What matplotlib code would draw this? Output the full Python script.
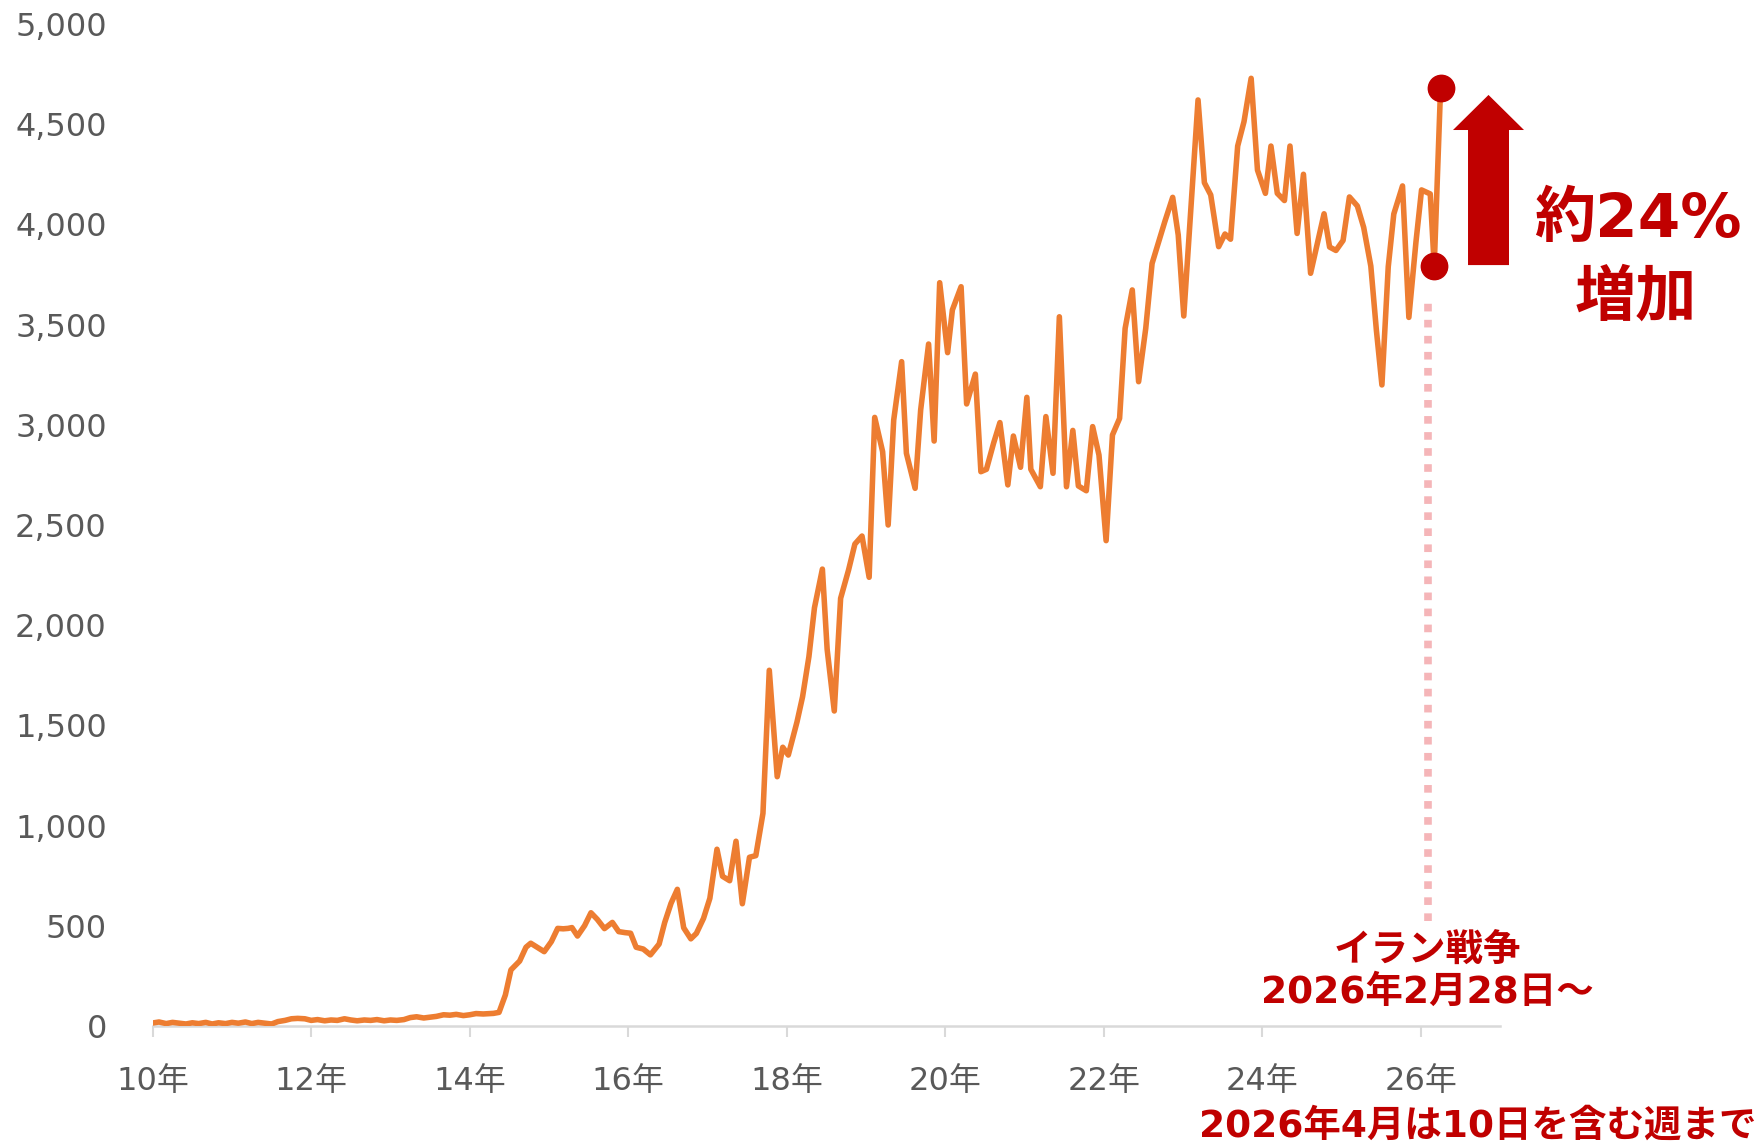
import matplotlib
matplotlib.use("Agg")
import matplotlib.pyplot as plt
import matplotlib.patches as mpatches

plt.rcParams["font.family"] = ["DejaVu Sans", "Noto Sans CJK JP"]

# ---------------------------------------------------------------------------
# Data (x in fractional years)
# ---------------------------------------------------------------------------
years = [
    2010.00, 2010.08, 2010.17, 2010.25, 2010.33, 2010.42, 2010.50, 2010.58,
    2010.67, 2010.75, 2010.83, 2010.92, 2011.00, 2011.08, 2011.17, 2011.25,
    2011.33, 2011.42, 2011.50, 2011.58, 2011.67, 2011.75, 2011.83, 2011.92,
    2012.00, 2012.08, 2012.17, 2012.25, 2012.33, 2012.42, 2012.50, 2012.58,
    2012.67, 2012.75, 2012.83, 2012.92, 2013.00, 2013.08, 2013.17, 2013.25,
    2013.33, 2013.42, 2013.50, 2013.58, 2013.67, 2013.75, 2013.83, 2013.92,
    2014.00, 2014.08, 2014.17, 2014.30, 2014.37, 2014.45, 2014.52, 2014.63,
    2014.71, 2014.77, 2014.94, 2015.03, 2015.11, 2015.18, 2015.24, 2015.29,
    2015.36, 2015.45, 2015.53, 2015.61, 2015.70, 2015.80, 2015.88, 2015.96,
    2016.03, 2016.10, 2016.19, 2016.28, 2016.39, 2016.46, 2016.54, 2016.62,
    2016.70, 2016.79, 2016.86, 2016.95, 2017.03, 2017.12, 2017.19, 2017.28,
    2017.36, 2017.44, 2017.53, 2017.61, 2017.70, 2017.78, 2017.88, 2017.95,
    2018.02, 2018.13, 2018.20, 2018.28, 2018.35, 2018.45, 2018.51, 2018.60,
    2018.68, 2018.78, 2018.86, 2018.95, 2019.04, 2019.11, 2019.21, 2019.28,
    2019.35, 2019.45, 2019.51, 2019.62, 2019.69, 2019.79, 2019.86, 2019.93,
    2020.03, 2020.09, 2020.20, 2020.27, 2020.38, 2020.45, 2020.52, 2020.61,
    2020.69, 2020.79, 2020.86, 2020.95, 2021.03, 2021.08, 2021.20, 2021.27,
    2021.36, 2021.44, 2021.53, 2021.61, 2021.68, 2021.78, 2021.86, 2021.94,
    2022.03, 2022.11, 2022.20, 2022.27, 2022.36, 2022.44, 2022.53, 2022.61,
    2022.70, 2022.77, 2022.87, 2022.94, 2023.01, 2023.19, 2023.27, 2023.35,
    2023.45, 2023.53, 2023.60, 2023.69, 2023.77, 2023.86, 2023.94, 2024.04,
    2024.11, 2024.19, 2024.28, 2024.35, 2024.44, 2024.52, 2024.61, 2024.70,
    2024.78, 2024.85, 2024.93, 2025.02, 2025.10, 2025.20, 2025.28, 2025.37,
    2025.44, 2025.51, 2025.59, 2025.66, 2025.77, 2025.85, 2025.94, 2026.01,
    2026.12, 2026.17, 2026.25,
]
values = [
    15, 20, 12, 18, 14, 10, 16, 12,
    18, 10, 16, 12, 18, 14, 20, 12,
    18, 14, 10, 22, 28, 36, 38, 36,
    28, 32, 26, 30, 28, 36, 30, 26,
    30, 28, 32, 26, 30, 28, 32, 42,
    46, 40, 44, 48, 56, 54, 58, 52,
    56, 62, 60, 63, 68, 155, 280, 324,
    393, 413, 371, 421, 487, 485, 487, 491,
    449, 501, 565, 532, 486, 517, 471, 466,
    463, 393, 384, 355, 409, 516, 612, 682,
    490, 435, 462, 537, 637, 882, 747, 725,
    922, 610, 842, 850, 1061, 1775, 1244, 1391,
    1352, 1518, 1643, 1843, 2087, 2280, 1880, 1572,
    2134, 2275, 2405, 2445, 2239, 3037, 2866, 2500,
    3024, 3315, 2858, 2683, 3074, 3403, 2919, 3709,
    3360, 3573, 3689, 3104, 3253, 2766, 2778, 2908,
    3011, 2700, 2944, 2788, 3137, 2778, 2691, 3041,
    2758, 3539, 2691, 2972, 2695, 2671, 2991, 2849,
    2422, 2949, 3032, 3481, 3673, 3215, 3481, 3805,
    3922, 4013, 4135, 3947, 3543, 4621, 4208, 4147,
    3889, 3952, 3926, 4391, 4513, 4729, 4271, 4155,
    4391, 4155, 4119, 4391, 3955, 4250, 3756, 3912,
    4053, 3887, 3870, 3920, 4137, 4092, 3985, 3792,
    3473, 3199, 3789, 4052, 4192, 3536, 3914, 4172,
    4152, 3792, 4679,
]

x_ticks = [2010, 2012, 2014, 2016, 2018, 2020, 2022, 2024, 2026]
x_tick_labels = ["10年", "12年", "14年", "16年", "18年", "20年", "22年", "24年", "26年"]
y_ticks = [0, 500, 1000, 1500, 2000, 2500, 3000, 3500, 4000, 4500, 5000]

war_start = 2026.09          # position of the dotted marker line
war_line_span = (525, 3620)  # vertical extent of the dotted line

LINE_COLOR = "#ED7D31"
ACCENT = "#C00000"
AXIS_GRAY = "#D9D9D9"
LABEL_GRAY = "#595959"
DOT_PINK = "#F5B5B8"

# ---------------------------------------------------------------------------
# Figure
# ---------------------------------------------------------------------------
W, H = 1761, 1147
fig = plt.figure(figsize=(W / 100, H / 100), dpi=100)
ax = fig.add_axes([152.7 / W, 1 - 1026 / H, (1500 - 152.7) / W, (1026 - 24) / H])

ax.plot(years, values, color=LINE_COLOR, linewidth=4.0,
        solid_joinstyle="round", solid_capstyle="round", zorder=3)

# start / end of the jump
ax.plot(years[-2:], values[-2:], linestyle="none", marker="o",
        markersize=19, color=ACCENT, zorder=4, clip_on=False)

ax.vlines(war_start, *war_line_span, colors=DOT_PINK, linewidth=5.5,
          linestyles=(0, (1.0, 1.1)), capstyle="butt", zorder=2)

ax.set_xlim(2010, 2027)
ax.set_ylim(0, 5000)

for side in ("top", "right", "left"):
    ax.spines[side].set_visible(False)
ax.spines["bottom"].set_color(AXIS_GRAY)
ax.spines["bottom"].set_linewidth(1.8)

ax.set_xticks(x_ticks)
ax.set_xticklabels(x_tick_labels)
ax.set_yticks(y_ticks)
ax.set_yticklabels([f"{v:,}" for v in y_ticks])
ax.tick_params(axis="x", length=8, width=1.5, color=AXIS_GRAY, pad=21,
               labelsize=23, labelcolor=LABEL_GRAY)
ax.tick_params(axis="y", length=0, pad=33, labelsize=23, labelcolor=LABEL_GRAY)

# increase arrow
arrow = mpatches.FancyArrow(2026.855, 3797, 0, 849, width=0.517,
                            head_width=0.896, head_length=175,
                            length_includes_head=True, color=ACCENT,
                            linewidth=0, clip_on=False, zorder=5)
ax.add_patch(arrow)

fig.text(1637.5 / W, 1 - 221 / H, "約24%", color=ACCENT, fontsize=44,
         fontweight="bold", ha="center", va="center")
fig.text(1636 / W, 1 - 298 / H, "増加", color=ACCENT, fontsize=44,
         fontweight="bold", ha="center", va="center",
         family=["Noto Sans CJK JP", "DejaVu Sans"])

ax.text(war_start - 0.01, 268, "イラン戦争\n2026年2月28日～", color=ACCENT,
        fontsize=27, fontweight="bold", ha="center", va="center",
        linespacing=1.2, clip_on=False)

fig.text(1756 / W, 1 - 1127 / H, "2026年4月は10日を含む週まで", color=ACCENT,
         fontsize=27, fontweight="bold", ha="right", va="center")

fig.savefig("out.png", dpi=100, facecolor="white")
